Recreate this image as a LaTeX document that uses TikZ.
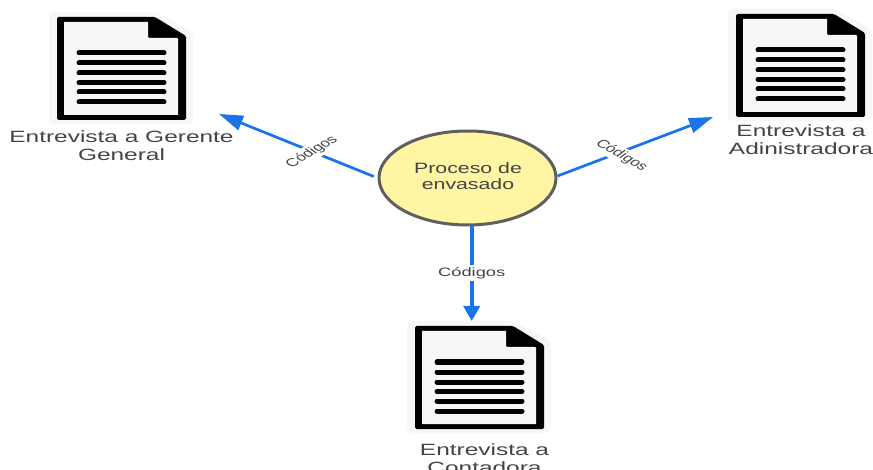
\documentclass[tikz,border=0pt]{standalone}
\usepackage{fontspec}
\setmainfont{Liberation Sans}
\usetikzlibrary{arrows.meta,shapes.geometric,calc}
\definecolor{linkblue}{HTML}{1A73E8}
\definecolor{inktext}{HTML}{444444}
\definecolor{ringgray}{HTML}{5F5F5F}
\definecolor{sunfill}{HTML}{FFF5A3}
\definecolor{pagegray}{HTML}{F7F7F7}
\tikzset{
  x=1pt,y=-1pt,
  link/.style={draw=linkblue,line width=2.7pt},
  linkdown/.style={draw=linkblue,line width=3.6pt},
  headD/.style={-{Triangle[length=15pt,width=16pt]}},
  headS/.style={-{Triangle[length=24pt,width=15pt]}},
  doctext/.style={text=inktext,font=\fontsize{16.3pt}{18pt}\selectfont,align=center,xscale=1.5,transform shape,inner sep=0pt},
  proctext/.style={text=inktext,font=\fontsize{15pt}{16pt}\selectfont,align=center,xscale=1.42,transform shape,inner sep=0pt},
  codelabel/.style={fill=white,text=inktext,font=\fontsize{12.2pt}{14pt}\selectfont,xscale=1.5,transform shape,inner sep=2pt,outer sep=0pt},
  codelabeltilt/.style={fill=white,text=inktext,font=\fontsize{11.4pt}{14pt}\selectfont,xscale=1.5,transform shape,inner sep=2pt,outer sep=0pt},
  halo/.style={fill=pagegray,draw=none,rounded corners=5pt},
  sheet/.style={fill=black,draw=none,rounded corners=1.5pt},
  textrow/.style={line width=5pt,line cap=round,draw=black},
}
\newcommand{\docicon}[3]{%
  \begin{scope}[shift={(#2,#3)}]
    \path[halo] (49,12) -- (156,12) -- (193,32) -- (193,124) -- (49,124) -- cycle;
    \path[sheet] (57,17) -- (155,17) -- (186,36) -- (186,120) -- (57,120) -- cycle;
    \path[fill=pagegray] (64,22) -- (148,22) -- (148,35) [rounded corners=1pt] -- (148,38) -- (178,38) [sharp corners] -- (178,115) -- (64,115) -- cycle;
    \foreach \rowy in {53,63,73,82.5,92,102}{\draw[textrow] (79,\rowy) -- (164,\rowy);}
    \coordinate (#1) at (121.5,68);
  \end{scope}}
\begin{document}
\begin{tikzpicture}
\path[use as bounding box,fill=white] (0,0) rectangle (873,470);
\clip (0,0) rectangle (873,470);

\docicon{docA}{0}{0}
\docicon{docB}{679}{-3}
\docicon{docC}{358}{309}

\node[doctext] (txtA) at (121.5,146) {Entrevista a Gerente\\General};
\node[doctext] (txtB) at (801,140) {Entrevista a\\Adinistradora};
\node[doctext] (txtC) at (484.5,458.5) {Entrevista a\\Contadora};

\node[ellipse,draw=ringgray,line width=3pt,fill=sunfill,minimum width=177pt,minimum height=94pt,inner sep=0pt] (proc) at (467.5,178) {};
\node[proctext] (proctxt) at (468,176.5) {Proceso de\\envasado};

\coordinate (tipA) at (219,114);
\coordinate (tipB) at (713,117);
\coordinate (tipC) at (471.7,321);

\draw[link,headS,shorten <=4pt] (proc.west) -- (tipA);
\draw[link,headS] ([yshift=2pt]proc.east) -- (tipB);
\draw[linkdown,headD] (proc.south -| tipC) -- (tipC);

\node[codelabeltilt,rotate=42] (labA) at (312,152) {Códigos};
\node[codelabeltilt,rotate=-41] (labB) at (621.5,155.5) {Códigos};
\node[codelabel] (labC) at (471.7,273) {Códigos};
\end{tikzpicture}
\end{document}
